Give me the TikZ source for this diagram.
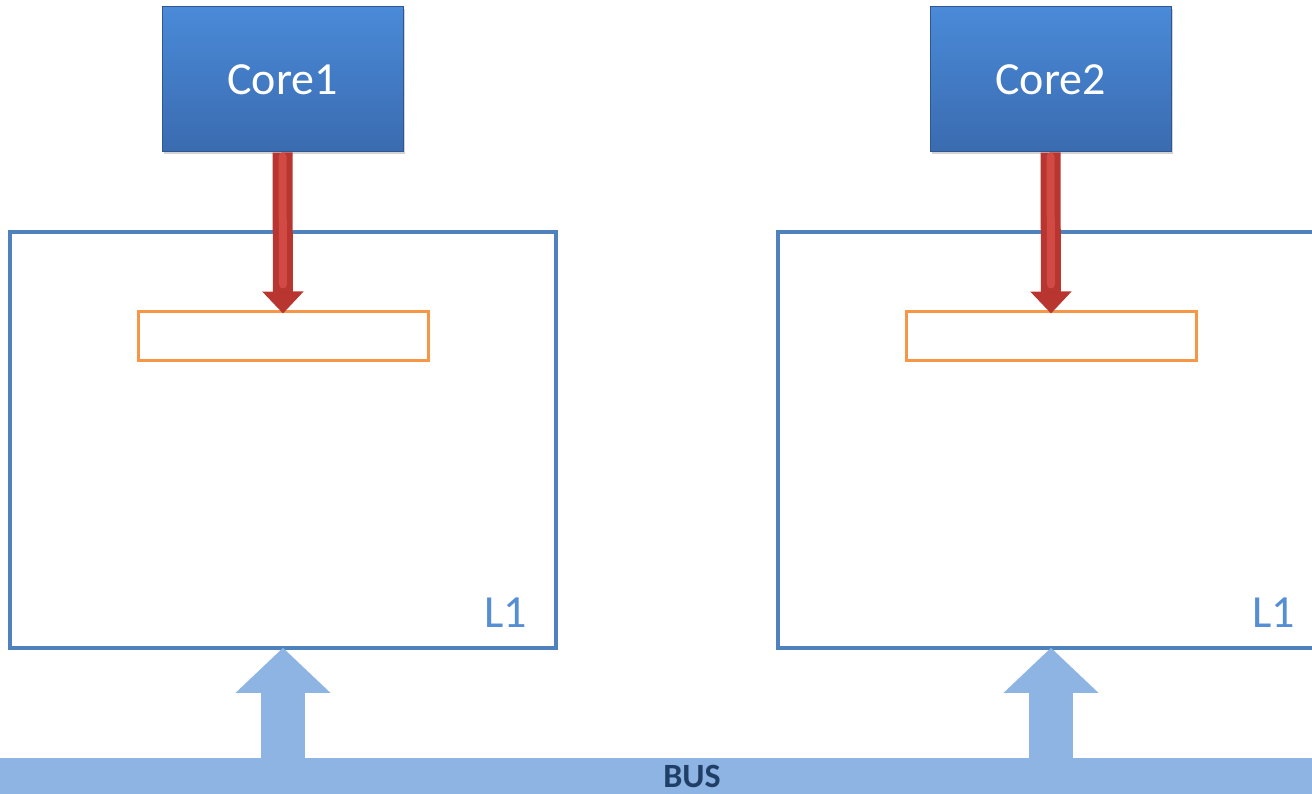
\documentclass[tikz,border=0pt]{standalone}
\usepackage{fontspec}
\setmainfont{Carlito}
\usetikzlibrary{arrows.meta,shadows}
\definecolor{boxblue}{HTML}{4F81BD}
\definecolor{lblblue}{HTML}{558ED5}
\definecolor{busblue}{HTML}{8EB4E3}
\definecolor{bustext}{HTML}{1F3F66}
\definecolor{orng}{HTML}{F79646}
\definecolor{coretop}{HTML}{4A8AD8}
\definecolor{corebot}{HTML}{3A6BB0}
\definecolor{coreedge}{HTML}{2E5690}
\definecolor{redarr}{HTML}{B83530}
\definecolor{redlite}{HTML}{D24A44}
\tikzset{
  corebox/.style={minimum width=241pt, minimum height=145pt, top color=coretop, bottom color=corebot,
    draw=coreedge, line width=1pt, text=white, font=\fontsize{46}{46}\selectfont, inner sep=0pt,
    drop shadow={shadow xshift=1.5pt, shadow yshift=-2pt, opacity=0.35}},
  cachebox/.style={draw=boxblue, line width=3.5pt, minimum width=546pt, minimum height=416pt, inner sep=0pt},
  bufbox/.style={draw=orng, line width=3pt, minimum width=290pt, minimum height=48pt, inner sep=0pt},
  lbl/.style={text=lblblue, font=\fontsize{46}{46}\selectfont, inner sep=0pt},
  busbar/.style={fill=busblue, minimum width=1340pt, minimum height=36pt, inner sep=0pt},
  bustextstyle/.style={text=bustext, font=\bfseries\fontsize{34}{34}\selectfont, inner sep=0pt},
  redarrow/.style={line width=20pt, draw=redarr, -{Triangle[width=40pt,length=22pt]}},
  redhl/.style={line width=8pt, draw=redlite, line cap=round},
  busarrow/.style={line width=44pt, draw=busblue, -{Triangle[width=92pt,length=45pt]}},
}
\begin{document}
\begin{tikzpicture}[x=1pt,y=-1pt]
\useasboundingbox (0,0) rectangle (1312,794);
\clip (0,0) rectangle (1312,794);
% L1 caches
\node[cachebox] (l1a) at (283,440) {};
\node[cachebox] (l1b) at (1051,440) {};
\node[lbl, anchor=south east] (lbla) at (527,628) {L1};
\node[lbl, anchor=south east] (lblb) at (1295,628) {L1};
% buffers
\node[bufbox] (bufa) at (283,336) {};
\node[bufbox] (bufb) at (1051,336) {};
% cores
\node[corebox] (core1) at (282.5,79.5) {Core1};
\node[corebox] (core2) at (1050.5,79.5) {Core2};
% bus
\node[busbar] (bus) at (656,776) {};
\node[bustextstyle] (bustxt) at (692,776.5) {BUS};
% red arrows
\draw[redarrow] (core1.south) -- ([yshift=-3pt]bufa.north);
\draw[redarrow] (core2.south) -- ([yshift=-3pt]bufb.north);
\draw[redhl] ([yshift=-4pt]core1.south) -- ([yshift=26pt]bufa.north);
\draw[redhl] ([yshift=-4pt]core2.south) -- ([yshift=26pt]bufb.north);
% bus arrows
\draw[busarrow] (bus.north -| bufa.center) -- ([yshift=2pt]l1a.south -| bufa.center);
\draw[busarrow] (bus.north -| bufb.center) -- ([yshift=2pt]l1b.south -| bufb.center);
\end{tikzpicture}
\end{document}
